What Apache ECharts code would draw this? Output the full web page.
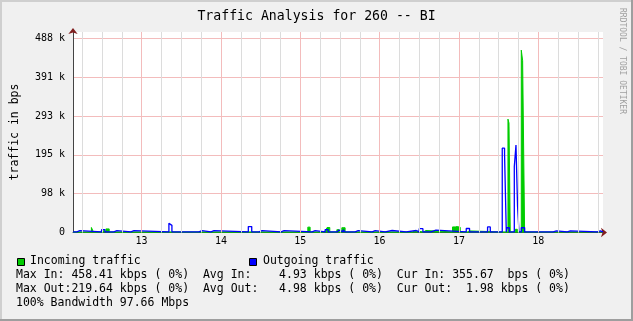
<!DOCTYPE html>
<html><head><meta charset="utf-8">
<script src="https://cdn.jsdelivr.net/npm/echarts@6/dist/echarts.min.js"></script>
<style>html,body{margin:0;padding:0;background:#f0f0f0}#c{width:633px;height:321px}</style>
</head><body><div id="c"></div>
<script>
// Outgoing traffic (kbps), step values starting at each x (day of month)
const outX = [12.135, 12.184, 12.221, 12.495, 12.537, 12.650, 12.688, 12.865, 12.903, 13.344,
              13.365, 13.382, 13.723, 13.761, 13.874, 13.912, 14.345, 14.388, 14.480, 14.518,
              14.758, 14.796, 15.149, 15.187, 15.313, 15.351, 15.461, 15.490, 15.540, 15.565,
              15.692, 15.729, 15.906, 15.944, 16.070, 16.158, 16.335, 16.461, 16.499, 16.546,
              16.647, 16.710, 17.092, 17.134, 17.361, 17.395, 17.546, 17.575, 17.597, 17.606,
              17.635, 17.698, 17.719, 17.739, 17.757, 17.786, 17.828, 18.190, 18.228, 18.367,
              18.404, 18.745, 18.783, 18.816];
const outY = [1.5, 4.5, 1.5, 7, 1.5, 4.5, 1.5, 4.5, 1.5, 23,
              18, 1.5, 4.5, 1.5, 4.5, 1.5, 15, 1.5, 4.5, 1.5,
              4.5, 1.5, 4.5, 1.5, 7, 1.5, 6, 1.5, 7, 1.5,
              4.5, 1.5, 4.5, 1.5, 5, 1.5, 5, 1.5, 9.5, 1.5,
              6, 1.5, 10, 1.5, 14, 1.5, 212, 196, 1.5, 12,
              1.5, 166, 219.6, 66, 1.5, 12, 1.5, 4, 1.5, 4,
              1.5, 4, 1.5, 1.5];
// Incoming traffic (kbps)
const inX = [12.135, 12.367, 12.392, 12.495, 12.524, 12.550, 12.591, 15.095, 15.124, 15.313,
             15.338, 15.372, 15.461, 15.490, 15.524, 15.565, 16.146, 16.171, 16.411, 16.449,
             16.553, 16.584, 16.919, 16.953, 16.979, 17.016, 17.105, 17.134, 17.521, 17.546,
             17.618, 17.631, 17.647, 17.710, 17.736, 17.786, 17.803, 17.828, 18.816];
const inY = [1.5, 12.6, 1.5, 5, 1.5, 9, 1.5, 13.5, 1.5, 6,
             12.6, 1.5, 7, 1.5, 12, 1.5, 4, 1.5, 4, 1.5,
             5, 1.5, 14, 15, 13, 1.5, 4, 1.5, 4, 1.5,
             285, 275, 1.5, 8, 1.5, 458.4, 432, 1.5, 1.5];

const majorTicks = [13, 14, 15, 16, 17, 18];
const minorTicks = [12.25, 12.5, 12.75, 13.25, 13.5, 13.75, 14.25, 14.5, 14.75, 15.25, 15.5, 15.75,
                    16.25, 16.5, 16.75, 17.25, 17.5, 17.75, 18.25, 18.5, 18.75];
const yStep = 97.65625;
const xMin = 12.135, xMax = 18.816, yMax = 504;

const titleText = 'Traffic Analysis for 260 -- BI';
const yName = 'traffic in bps';
const watermark = 'RRDTOOL / TOBI OETIKER';
const legendNames = ['Incoming traffic', 'Outgoing traffic'];
const statLines = [
  'Max In: 458.41 kbps ( 0%)  Avg In:    4.93 kbps ( 0%)  Cur In: 355.67  bps ( 0%)',
  'Max Out:219.64 kbps ( 0%)  Avg Out:   4.98 kbps ( 0%)  Cur Out:  1.98 kbps ( 0%)',
  '100% Bandwidth 97.66 Mbps'
];

const FONT = '"DejaVu Sans Mono", monospace';
const GREEN = '#00cc00', BLUE = '#0000ff';
const zip = (a, b) => a.map((v, i) => [v, b[i]]);

const vLines = minorTicks.map(v => ({
  xAxis: v, lineStyle: {color: '#dcdcdc', width: 1, type: 'solid'}, label: {show: false}
})).concat(majorTicks.map(v => ({
  xAxis: v, lineStyle: {color: '#f3bcbc', width: 1, type: 'solid'},
  label: {show: true, position: 'start', formatter: String(v), distance: 4,
          color: '#000', fontFamily: FONT, fontSize: 10}
})));

const chart = echarts.init(document.getElementById('c'), null, {renderer: 'canvas'});
const txt = (x, y, text, extra) => Object.assign({
  type: 'text', x: x, y: y, silent: true,
  style: Object.assign({text: text, fill: '#000', font: '11.5px ' + FONT,
                        textAlign: 'left', textVerticalAlign: 'middle'}, (extra && extra.style) || {})
}, extra && extra.rotation !== undefined ? {rotation: extra.rotation} : {});

chart.setOption({
  animation: false,
  backgroundColor: '#f0f0f0',
  grid: {left: 73, top: 32, width: 530, height: 200.5, show: true, backgroundColor: '#ffffff', borderWidth: 0},
  xAxis: [{
    type: 'value', min: xMin, max: xMax,
    axisLine: {show: true, onZero: false, lineStyle: {color: '#444', width: 1}},
    axisTick: {show: false}, axisLabel: {show: false}, splitLine: {show: false}
  }, {
    type: 'value', min: xMin, max: xMax, position: 'bottom',
    axisLine: {show: true, onZero: false, symbol: ['none', 'arrow'], symbolSize: [7, 6], symbolOffset: [0, 4],
               lineStyle: {color: '#801f1f', width: 0}},
    axisTick: {show: false}, axisLabel: {show: false}, splitLine: {show: false}
  }],
  yAxis: [{
    type: 'value', min: 0, max: yMax, interval: yStep,
    axisLine: {show: true, lineStyle: {color: '#444', width: 1}},
    axisTick: {show: false},
    axisLabel: {showMaxLabel: false, margin: 8, color: '#000', fontFamily: FONT, fontSize: 10,
                formatter: v => v === 0 ? '0' : Math.round(v) + ' k'},
    splitLine: {show: true, showMaxLine: false, showMinLine: false, lineStyle: {color: '#f3bcbc', width: 1}}
  }, {
    type: 'value', min: 0, max: yMax, position: 'left',
    axisLine: {show: true, symbol: ['none', 'arrow'], symbolSize: [7, 6], symbolOffset: [0, 4],
               lineStyle: {color: '#801f1f', width: 0}},
    axisTick: {show: false}, axisLabel: {show: false}, splitLine: {show: false}
  }],
  series: [{
    type: 'line', z: 1, data: [], silent: true,
    markLine: {silent: true, symbol: ['none', 'none'], animation: false, data: vLines}
  }, {
    name: legendNames[0], type: 'line', z: 2, step: 'end', showSymbol: false, symbol: 'none',
    data: zip(inX, inY), lineStyle: {width: 1, color: GREEN}, areaStyle: {color: GREEN, opacity: 1}
  }, {
    name: legendNames[1], type: 'line', z: 3, step: 'end', showSymbol: false, symbol: 'none',
    data: zip(outX, outY), lineStyle: {width: 1.3, color: BLUE}
  }],
  graphic: [
    {type: 'polyline', silent: true, shape: {points: [[1, 321], [1, 1], [633, 1]]}, style: {stroke: '#cfcfcf', lineWidth: 2, fill: null}},
    {type: 'polyline', silent: true, shape: {points: [[0, 320], [632, 320], [632, 0]]}, style: {stroke: '#9e9e9e', lineWidth: 2, fill: null}},
    txt(316.5, 17, titleText, {style: {font: '13.2px ' + FONT, textAlign: 'center'}}),
    txt(15, 132, yName, {rotation: Math.PI / 2, style: {textAlign: 'center'}}),
    txt(622, 8, watermark, {rotation: -Math.PI / 2, style: {font: '8px ' + FONT, fill: '#a0a0a0'}}),
    {type: 'rect', silent: true, shape: {x: 17.5, y: 258.5, width: 7, height: 7}, style: {fill: GREEN, stroke: '#000', lineWidth: 1}},
    {type: 'rect', silent: true, shape: {x: 249.5, y: 258.5, width: 7, height: 7}, style: {fill: BLUE, stroke: '#000', lineWidth: 1}},
    txt(30, 261, legendNames[0]),
    txt(263, 261, legendNames[1]),
    txt(16, 275, statLines[0]),
    txt(16, 289, statLines[1]),
    txt(16, 303, statLines[2])
  ]
});
</script>
</body></html>
